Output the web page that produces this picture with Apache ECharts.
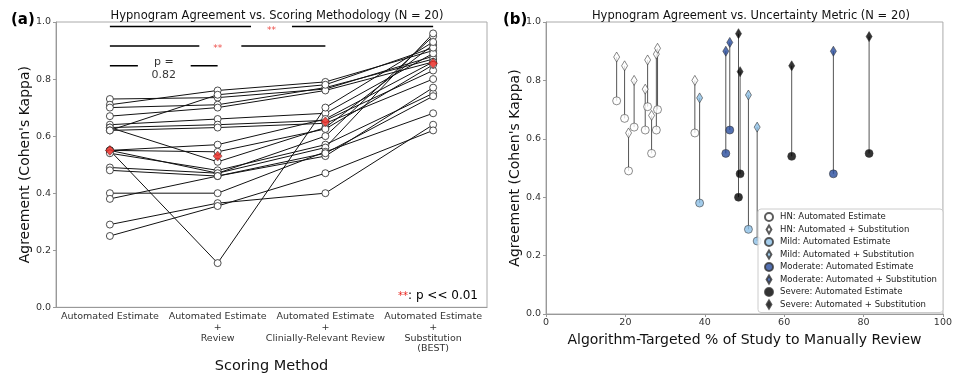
<!DOCTYPE html>
<html>
<head>
<meta charset="utf-8">
<script src="https://cdn.jsdelivr.net/npm/echarts@6/dist/echarts.min.js"></script>
<style>
  html, body { margin: 0; padding: 0; background: #fff; }
  #chart { width: 955px; height: 379px; }
</style>
</head>
<body>
<div id="chart"></div>
<script>
// (a) kappa per subject for each scoring method
var methods = ['Automated Estimate', 'Automated Estimate\n+\nReview',
  'Automated Estimate\n+\nClinially-Relevant Review', 'Automated Estimate\n+\nSubstitution\n(BEST)'];
var autoEst      = [0.73, 0.71, 0.70, 0.67, 0.64, 0.63, 0.63, 0.62, 0.62, 0.55, 0.55, 0.55, 0.55, 0.54, 0.49, 0.48, 0.40, 0.38, 0.29, 0.25];
var autoReview   = [0.735, 0.76, 0.71, 0.70, 0.66, 0.64, 0.51, 0.745, 0.63, 0.57, 0.545, 0.47, 0.155, 0.48, 0.47, 0.46, 0.40, 0.46, 0.365, 0.355];
var clinReview   = [0.765, 0.79, 0.77, 0.76, 0.68, 0.655, 0.63, 0.78, 0.645, 0.66, 0.625, 0.60, 0.70, 0.57, 0.56, 0.53, 0.545, 0.54, 0.40, 0.47];
var substitution = [0.88, 0.90, 0.87, 0.86, 0.89, 0.83, 0.92, 0.91, 0.80, 0.86, 0.85, 0.95, 0.93, 0.75, 0.96, 0.77, 0.68, 0.74, 0.64, 0.62];
var medians = [0.55, 0.53, 0.65, 0.855];

// (b) % reviewed vs kappa, by severity group
var hnX      = [17.8, 19.8, 20.8, 22.2, 25.0, 25.6, 26.6, 27.8, 28.1, 37.5];
var hnAuto   = [0.73, 0.67, 0.49, 0.64, 0.63, 0.71, 0.55, 0.63, 0.70, 0.62];
var hnSubst  = [0.88, 0.85, 0.62, 0.80, 0.77, 0.87, 0.68, 0.89, 0.91, 0.80];
var mildX     = [38.7, 51.0, 53.2];
var mildAuto  = [0.38, 0.29, 0.25];
var mildSubst = [0.74, 0.75, 0.64];
var modX     = [45.3, 46.3, 72.4];
var modAuto  = [0.55, 0.63, 0.48];
var modSubst = [0.90, 0.93, 0.90];
var sevX     = [48.5, 48.9, 61.9, 81.4];
var sevAuto  = [0.40, 0.48, 0.54, 0.55];
var sevSubst = [0.96, 0.83, 0.85, 0.95];

var FONT = 'DejaVu Sans';
var THIN_DIAMOND = 'path://M0,-5L3,0L0,5L-3,0Z';
var chart = echarts.init(document.getElementById('chart'));

var series = [];
var cols = [autoEst, autoReview, clinReview, substitution];
for (var i = 0; i < autoEst.length; i++) {
  series.push({
    type: 'line', xAxisIndex: 0, yAxisIndex: 0, silent: true,
    data: cols.map(function (c) { return c[i]; }),
    symbol: 'circle', symbolSize: 7,
    lineStyle: { color: '#111', width: 1 },
    itemStyle: { color: '#fff', borderColor: '#222', borderWidth: 0.8 },
    z: 2
  });
}
series.push({
  type: 'scatter', xAxisIndex: 0, yAxisIndex: 0, silent: true,
  data: medians, symbol: 'diamond', symbolSize: [9, 10],
  itemStyle: { color: '#e8201a', borderColor: '#222', borderWidth: 0.5 }, z: 5
});

// significance bars
function bar(x0, x1, y) {
  series.push({
    type: 'line', xAxisIndex: 1, yAxisIndex: 0, silent: true, symbol: 'none',
    data: [[x0, y], [x1, y]], lineStyle: { color: '#000', width: 1.5 }, z: 3
  });
}
bar(0, 1.31, 0.984); bar(1.69, 3, 0.984);
bar(0, 0.83, 0.916); bar(1.22, 2, 0.916);
bar(0, 0.26, 0.847); bar(0.75, 1, 0.847);
function note(x, y, text, color, size) {
  series.push({
    type: 'scatter', xAxisIndex: 1, yAxisIndex: 0, silent: true, symbolSize: 0,
    data: [[x, y]],
    label: { show: true, position: 'inside', formatter: text, color: color,
      fontFamily: FONT, fontSize: size, lineHeight: size + 2 }, z: 4
  });
}
note(1.5, 0.968, '**', '#e8201a', 9);
note(1.0, 0.905, '**', '#e8201a', 9);
note(0.5, 0.835, 'p =\n0.82', '#000', 11);

// (b) connectors
function stems(xs, a, b) {
  for (var k = 0; k < xs.length; k++) {
    series.push({
      type: 'line', xAxisIndex: 2, yAxisIndex: 1, silent: true, symbol: 'none',
      data: [[xs[k], a[k]], [xs[k], b[k]]],
      lineStyle: { color: '#555', width: 1 }, z: 2
    });
  }
}
stems(hnX, hnAuto, hnSubst); stems(mildX, mildAuto, mildSubst);
stems(modX, modAuto, modSubst); stems(sevX, sevAuto, sevSubst);

var legendItems = [];
function pts(name, xs, ys, color, diamond) {
  series.push({
    name: name, type: 'scatter', xAxisIndex: 2, yAxisIndex: 1, silent: true,
    data: xs.map(function (x, k) { return [x, ys[k]]; }),
    symbol: diamond ? 'diamond' : 'circle',
    symbolSize: diamond ? [6, 10] : 8,
    itemStyle: { color: color, borderColor: '#333', borderWidth: 0.7 }, z: 4
  });
  legendItems.push({ name: name, icon: diamond ? THIN_DIAMOND : 'circle' });
}
var groups = [
  ['HN', hnX, hnAuto, hnSubst, '#ffffff'],
  ['Mild', mildX, mildAuto, mildSubst, '#8cbfe6'],
  ['Moderate', modX, modAuto, modSubst, '#284c9e'],
  ['Severe', sevX, sevAuto, sevSubst, '#000000']
];
groups.forEach(function (g) {
  pts(g[0] + ': Automated Estimate', g[1], g[2], g[4], false);
  pts(g[0] + ': Automated + Substitution', g[1], g[3], g[4], true);
});

var tickLabel = { fontFamily: FONT, fontSize: 9.5, color: '#333' };
var yAxisBase = {
  type: 'value', min: 0, max: 1, interval: 0.2,
  axisLine: { show: true, onZero: false, lineStyle: { color: '#999' } },
  axisTick: { show: true, length: 3, lineStyle: { color: '#999' } },
  splitLine: { show: false },
  axisLabel: Object.assign({ formatter: function (v) { return v.toFixed(1); }, margin: 5 }, tickLabel),
  name: "Agreement (Cohen's Kappa)", nameLocation: 'middle', nameGap: 21,
  nameTextStyle: { fontFamily: FONT, fontSize: 14, color: '#111' }
};

chart.setOption({
  animation: false,
  title: [
    { text: 'Hypnogram Agreement vs. Scoring Methodology (N = 20)', left: 272, top: 5, textAlign: 'center',
      textStyle: { fontFamily: FONT, fontSize: 11.5, fontWeight: 'normal', color: '#111' } },
    { text: 'Hypnogram Agreement vs. Uncertainty Metric (N = 20)', left: 746, top: 5, textAlign: 'center',
      textStyle: { fontFamily: FONT, fontSize: 11.5, fontWeight: 'normal', color: '#111' } },
    { text: '(a)', left: 6, top: 8, textStyle: { fontFamily: FONT, fontSize: 15, fontWeight: 'bold', color: '#000' } },
    { text: '(b)', left: 498, top: 8, textStyle: { fontFamily: FONT, fontSize: 15, fontWeight: 'bold', color: '#000' } }
  ],
  grid: [
    { left: 56, right: 468, top: 22, bottom: 66, show: true, borderColor: '#aaa', borderWidth: 1 },
    { left: 546, right: 8, top: 22, bottom: 65, show: true, borderColor: '#aaa', borderWidth: 1 }
  ],
  xAxis: [
    { type: 'category', gridIndex: 0, data: methods, boundaryGap: true,
      axisLine: { show: true, lineStyle: { color: '#999' } }, axisTick: { show: false },
      axisLabel: Object.assign({ interval: 0, lineHeight: 10.7, margin: 4 }, tickLabel),
      name: 'Scoring Method', nameLocation: 'middle', nameGap: 50,
      nameTextStyle: { fontFamily: FONT, fontSize: 14.5, color: '#111' } },
    { type: 'value', gridIndex: 0, min: -0.5, max: 3.5, show: false },
    { type: 'value', gridIndex: 1, min: 0, max: 100, interval: 20,
      axisLine: { show: true, onZero: false, lineStyle: { color: '#999' } },
      axisTick: { show: true, length: 3, lineStyle: { color: '#999' } },
      splitLine: { show: false }, axisLabel: Object.assign({ margin: 4 }, tickLabel),
      name: 'Algorithm-Targeted % of Study to Manually Review', nameLocation: 'middle', nameGap: 17,
      nameTextStyle: { fontFamily: FONT, fontSize: 14, color: '#111' } }
  ],
  yAxis: [
    Object.assign({ gridIndex: 0 }, yAxisBase),
    Object.assign({ gridIndex: 1 }, yAxisBase)
  ],
  legend: {
    orient: 'vertical', left: 758, top: 209, padding: [3, 6, 3, 6], z: 10,
    itemWidth: 12, itemHeight: 8, itemGap: 2.5,
    borderColor: '#ccc', borderWidth: 1, borderRadius: 3, backgroundColor: 'rgba(255,255,255,0.85)',
    textStyle: { fontFamily: FONT, fontSize: 8.5, lineHeight: 10, color: '#222' },
    data: legendItems
  },
  graphic: [{
    type: 'text', right: 477, top: 290, z: 10,
    style: {
      text: '{r|**}{k|: p << 0.01}',
      rich: {
        r: { fill: '#e8201a', fontFamily: FONT, fontSize: 10 },
        k: { fill: '#000', fontFamily: FONT, fontSize: 12 }
      }
    }
  }],
  series: series
});
</script>
</body>
</html>
